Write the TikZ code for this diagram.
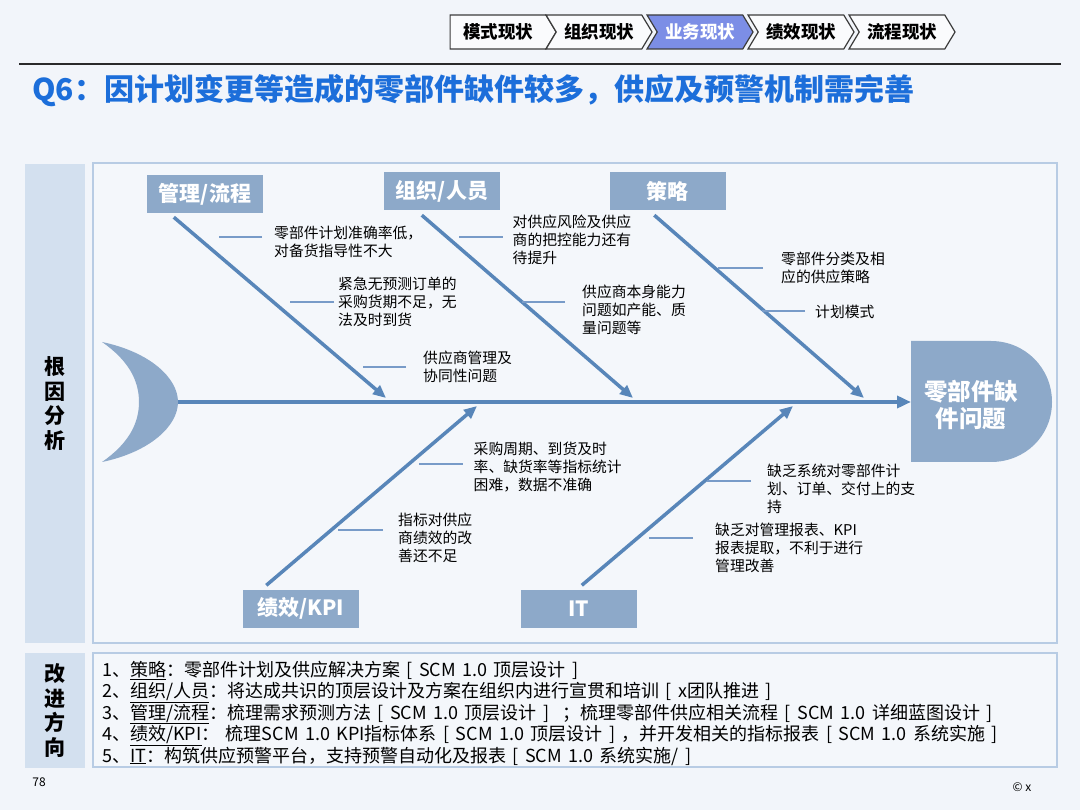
\documentclass[tikz,border=0pt]{standalone}
\usepackage{fontspec}
\setmainfont{Noto Sans CJK SC}
\newfontfamily\planfont{Noto Sans CJK SC}[WordSpace=1.6]
\usetikzlibrary{shapes.symbols, arrows.meta, positioning}
\definecolor{pagebg}{RGB}{242, 245, 250}
\definecolor{framefill}{RGB}{244, 247, 251}
\definecolor{framedraw}{RGB}{184, 204, 228}
\definecolor{colfill}{RGB}{211, 224, 239}
\definecolor{boxblue}{RGB}{141, 169, 201}
\definecolor{bonecol}{RGB}{88, 134, 185}
\definecolor{twigcol}{RGB}{120, 155, 200}
\definecolor{titleblue}{RGB}{28, 110, 218}
\definecolor{tabactive}{RGB}{124, 142, 230}
\definecolor{tabfill}{RGB}{250, 251, 253}
\definecolor{tabdraw}{RGB}{60, 60, 60}

\begin{document}
\begin{tikzpicture}[x=1pt, y=-1pt,
    tab/.style={signal, signal to=east, signal from=west, signal pointer angle=118,
      draw=tabdraw, line width=1.2pt, fill=tabfill, minimum width=106pt,
      minimum height=34pt, inner sep=0pt, font=\bfseries\fontsize{17.5}{18}\selectfont},
    cat/.style={fill=boxblue, text=white, minimum width=116pt, minimum height=38pt,
      inner sep=0pt, font=\bfseries\fontsize{21}{22}\selectfont},
    bone/.style={draw=bonecol, line width=3.5pt, -{Triangle[length=13pt, width=11pt]}},
    twig/.style={draw=twigcol, line width=1.2pt},
    note/.style={anchor=west, align=left, inner sep=0pt, font=\fontsize{14.8}{18}\selectfont},
    side/.style={fill=colfill, minimum width=60pt, inner sep=0pt, align=center,
      font=\bfseries\fontsize{21}{24.6}\selectfont},
    panel/.style={draw=framedraw, fill=framefill, line width=1.2pt, minimum width=964pt, inner sep=0pt}]

  \fill[pagebg] (0,0) rectangle (1080,810);
  \useasboundingbox (0,0) rectangle (1080,810);

  % tabs
  \node[tab, signal from=nowhere] (tmode) at (498,32) {模式现状};
  \node[tab] (torg) at (599,32) {组织现状};
  \node[tab, fill=tabactive, text=white] (tbiz) at (700,32) {业务现状};
  \node[tab] (tperf) at (801,32) {绩效现状};
  \node[tab] (tflow) at (902,32) {流程现状};

  \draw[tabdraw!70!black, line width=2.5pt] (19,64) -- (1061,64);
  \node[anchor=west, inner sep=0pt, text=titleblue, font=\bfseries\fontsize{30}{31}\selectfont]
    (title) at (32,91) {Q6：因计划变更等造成的零部件缺件较多，供应及预警机制需完善};

  % panels
  \node[side, minimum height=479pt] (rootcol) at (55,403.5) {根\\因\\分\\析};
  \node[panel, minimum height=480pt] (fishframe) at (575,403) {};
  \node[side, minimum height=115pt] (plancol) at (55,710.5) {改\\进\\方\\向};
  \node[panel, minimum height=114pt] (planbox) at (575,710) {};

  % tail and head
  \fill[boxblue] (102,342) .. controls (150,352) and (178,378) .. (178,402)
    .. controls (178,426) and (150,452) .. (102,462)
    .. controls (128,444) and (139,424) .. (139,402)
    .. controls (139,380) and (128,360) .. (102,342) -- cycle;
  \coordinate (tail) at (178,402);
  \fill[boxblue] (911,341) -- (991,341) .. controls (1025,341) and (1052,368) .. (1052,402)
    .. controls (1052,436) and (1025,462) .. (991,462) -- (911,462) -- cycle;
  \node[anchor=west, minimum width=120pt, minimum height=100pt, inner sep=0pt, align=center,
    text=white, font=\bfseries\fontsize{23.5}{27}\selectfont] (head) at (911,404.5) {零部件缺\\件问题};

  \draw[bone, line width=4pt, -{Triangle[length=14pt, width=12pt]}] (tail) -- (tail -| head.west);

  % categories
  \node[cat] (mgmt) at (205,194) {管理/流程};
  \node[cat] (org) at (442,191) {组织/人员};
  \node[cat] (strat) at (667.5,191) {策略};
  \node[cat] (kpi) at (300.5,608.5) {绩效/KPI};
  \node[cat] (it) at (579,608.5) {IT};

  \coordinate (mgmt-tip) at (386,398);
  \coordinate (org-tip) at (633,398);
  \coordinate (strat-tip) at (864,398);
  \coordinate (kpi-tip) at (477,406);
  \coordinate (it-tip) at (793,406);

  \draw[bone] ([shift={(27,4)}]mgmt.south west) -- (mgmt-tip);
  \draw[bone] ([shift={(38,5)}]org.south west) -- (org-tip);
  \draw[bone] ([shift={(45,5)}]strat.south west) -- (strat-tip);
  \draw[bone] ([shift={(24,-4)}]kpi.north west) -- (kpi-tip);
  \draw[bone] ([shift={(61,-4)}]it.north west) -- (it-tip);

  % causes
  \node[note] (m1) at (274,241.5) {零部件计划准确率低，\\对备货指导性不大};
  \node[note] (m2) at (338,302) {紧急无预测订单的\\采购货期不足，无\\法及时到货};
  \node[note] (m3) at (423,366.5) {供应商管理及\\协同性问题};
  \node[note] (o1) at (512.5,239.5) {对供应风险及供应\\商的把控能力还有\\待提升};
  \node[note] (o2) at (582,310) {供应商本身能力\\问题如产能、质\\量问题等};
  \node[note] (s1) at (781,267.5) {零部件分类及相\\应的供应策略};
  \node[note] (s2) at (815,312) {计划模式};
  \node[note] (k1) at (473.5,467) {采购周期、到货及时\\率、缺货率等指标统计\\困难，数据不准确};
  \node[note] (k2) at (398,538) {指标对供应\\商绩效的改\\善还不足};
  \node[note] (i1) at (767,489) {缺乏系统对零部件计\\划、订单、交付上的支\\持};
  \node[note] (i2) at (715,548) {缺乏对管理报表、KPI\\报表提取，不利于进行\\管理改善};

  \draw[twig] ([shift={(-12,-4.5)}]m1.west) -- ++(-43,0);
  \draw[twig] ([shift={(-4,0)}]m2.west) -- ++(-44,0);
  \draw[twig] ([shift={(-17,0.5)}]m3.west) -- ++(-43,0);
  \draw[twig] ([shift={(-10,-2.5)}]o1.west) -- ++(-44,0);
  \draw[twig] ([shift={(-17,-8)}]o2.west) -- ++(-43,0);
  \draw[twig] ([shift={(-18,0.5)}]s1.west) -- ++(-45,0);
  \draw[twig] ([shift={(-10,-1)}]s2.west) -- ++(-43,0);
  \draw[twig] ([shift={(-11,-3)}]k1.west) -- ++(-44,0);
  \draw[twig] ([shift={(-15,-8)}]k2.west) -- ++(-45,0);
  \draw[twig] ([shift={(-16,-8)}]i1.west) -- ++(-44,0);
  \draw[twig] ([shift={(-22,-10)}]i2.west) -- ++(-44,0);

  % plan
  \node[anchor=west, align=left, inner sep=0pt,
    font=\planfont\fontsize{18}{21.5}\selectfont] (plan) at (102,713)
    {1、\underline{策略}：零部件计划及供应解决方案 [ SCM 1.0 顶层设计 ]\\
     2、\underline{组织/人员}：将达成共识的顶层设计及方案在组织内进行宣贯和培训 [ x团队推进 ]\\
     3、\underline{管理/流程}：梳理需求预测方法 [ SCM 1.0 顶层设计 ] ~；梳理零部件供应相关流程 [ SCM 1.0 详细蓝图设计 ]\\
     4、\underline{绩效/KPI}： 梳理SCM 1.0 KPI指标体系 [ SCM 1.0 顶层设计 ] ，并开发相关的指标报表 [ SCM 1.0 系统实施 ]\\
     5、\underline{IT}：构筑供应预警平台，支持预警自动化及报表 [ SCM 1.0 系统实施/ ]};

  \node[font=\fontsize{12}{12}\selectfont] (pageno) at (39,782) {78};
  \node[font=\fontsize{12}{12}\selectfont] (copy) at (1022,787) {© x};
\end{tikzpicture}
\end{document}
